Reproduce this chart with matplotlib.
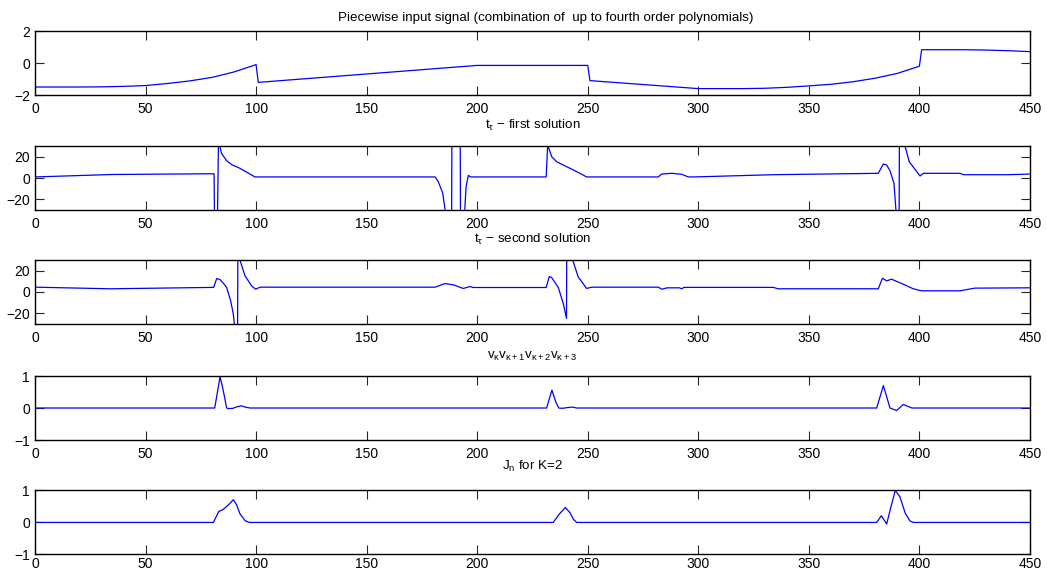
import matplotlib
matplotlib.use("Agg")
import matplotlib.pyplot as plt

plt.rcParams['font.family'] = ['Liberation Sans', 'DejaVu Sans']
plt.rcParams['mathtext.fontset'] = 'custom'
plt.rcParams['mathtext.rm'] = 'Liberation Sans'
plt.rcParams['mathtext.it'] = 'Liberation Sans'
plt.rcParams['mathtext.default'] = 'regular'

# piecewise input signal
t_in = [0, 10, 20, 30, 40, 50, 60, 70, 80, 90, 100, 101, 200, 250, 251, 300,
        310, 320, 330, 340, 350, 360, 370, 380, 390, 400, 401, 420, 430, 440, 450]
s_in = [-1.5, -1.5, -1.5, -1.49, -1.46, -1.41, -1.28, -1.12, -0.9, -0.56, -0.1,
        -1.21, -0.15, -0.15, -1.1, -1.6, -1.6, -1.6, -1.58, -1.52, -1.43, -1.33,
        -1.17, -0.95, -0.65, -0.2, 0.83, 0.83, 0.81, 0.77, 0.71]

# t_tau first solution
t_first = [0, 35, 81, 81.3, 82.4, 83, 84.4, 86.7, 89, 92.7, 99.5, 181, 182.4,
           184.4, 185.5, 186.5, 188, 189, 191.9, 192.9, 194, 194.5, 195, 196,
           197, 231.2, 231.9, 233.7, 235.9, 240.5, 245, 249.5, 281.9, 283.4,
           288, 292.5, 295.5, 298, 334, 381.4, 383.7, 385.2, 386.7, 388.5,
           389.4, 390.4, 391.4, 392.7, 393.5, 395.4, 398.8, 400.3, 401.8,
           418.4, 420, 440, 450]
s_first = [1.0, 3.3, 4.0, -60, -60, 35, 23, 16.2, 12.5, 9.1, 1.0, 1.0, -3.4,
           -14, -30, -150, -300, 300, 300, -300, -60, -25, -8, 2.5,
           1.0, 1.0, 31, 20, 15.3, 10.6, 6, 1.0, 1.0, 3.7,
           4.4, 3.5, 1.0, 1.0, 3.1, 4.4, 13.1, 12.2, 6.9, -5,
           -30, -300, 300, 100, 30, 15.3, 6, 1.9, 4.4,
           4.4, 3.1, 3.1, 3.7]

# t_tau second solution
t_second = [0, 34, 80.8, 82.2, 83.7, 85.3, 86.7, 88.5, 89.7, 90.2, 91.2, 92.2,
            92.7, 95, 98, 99.8, 101.8, 181, 185.4, 189.2, 193.7, 196.7, 198.2,
            231.2, 232.6, 233.7, 236.7, 239, 240.4, 240.8, 242.5, 243.2, 245.7,
            249.5, 251.8, 282, 283.4, 286, 291.5, 292.5, 293.5, 334, 336,
            381.4, 383.3, 385.2, 387.4, 392.7, 397.2, 401, 418.4, 425, 450]
s_second = [4.5, 3.0, 4.3, 12.6, 11.6, 8, 4.2, -8.2, -20.6, -30, -300, 300,
            30, 15.1, 5.7, 2.6, 4.5, 4.5, 7.9, 6.7, 3.3, 5.1, 4.2,
            4.2, 14.4, 13.5, 4.2, -11.3, -24.7, 200, 60, 30, 14.1,
            3.3, 4.5, 4.5, 2.6, 3.9, 3.9, 3.0, 4.3, 4.3, 3.0,
            3.0, 12.9, 10.4, 12.0, 7.3, 3.0, 1.1, 1.1, 3.6, 3.9]

# v_k v_k+1 v_k+2 v_k+3
t_prod = [0, 81.3, 83.7, 85, 86.7, 87.5, 89.5, 91, 93.3, 95, 97.2, 231.4, 233.8,
          235.5, 236.9, 238.5, 240.5, 242.9, 245, 380.7, 383.7, 385, 386.7,
          389.7, 392.7, 394.5, 396.6, 450]
s_prod = [0, 0, 0.98, 0.6, 0.0, -0.02, -0.01, 0.03, 0.07, 0.03, 0, 0, 0.56,
          0.2, 0.0, -0.01, 0.01, 0.03, 0, 0, 0.7, 0.4, 0,
          -0.08, 0.11, 0.06, 0, 0]

# J_n for K=2
t_j = [0, 80.7, 83.1, 85.2, 87.5, 89.7, 91.2, 92.7, 95.1, 97, 234.4, 237, 239.9,
       242, 243.5, 245, 380.7, 382.8, 385.2, 387, 389.1, 391.2, 393.6, 395.7,
       397.3, 450]
s_j = [0, 0, 0.34, 0.41, 0.55, 0.71, 0.55, 0.27, 0.05, 0, 0, 0.25, 0.47,
       0.3, 0.1, 0, 0, 0.21, -0.05, 0.45, 1.0, 0.8, 0.29, 0.05,
       0, 0]

titles = ["Piecewise input signal (combination of  up to fourth order polynomials)",
          r"t$_{\tau}$ $-$ first solution",
          r"t$_{\tau}$ $-$ second solution",
          r"v$_{\kappa}$v$_{\kappa+1}$v$_{\kappa+2}$v$_{\kappa+3}$",
          r"J$_{n}$ for K=2"]
ylims = [(-2, 2), (-30, 30), (-30, 30), (-1, 1), (-1, 1)]
yticks = [[-2, 0, 2], [-20, 0, 20], [-20, 0, 20], [-1, 0, 1], [-1, 0, 1]]
series = [(t_in, s_in), (t_first, s_first), (t_second, s_second),
          (t_prod, s_prod), (t_j, s_j)]

fig = plt.figure(figsize=(10.47, 5.71), dpi=100)
bottoms = [0.8336, 0.6322, 0.4326, 0.2294, 0.0290]
pads = [7.5, 12.0, 12.0, 12.5, 15.0]
title_x = [0.5136, 0.5, 0.5, 0.5, 0.5]
xpads = [5, 5, 5, 5, 1.5]

for i in range(5):
    ax = fig.add_axes([0.0334, bottoms[i], 0.9503, 0.1121])
    tx, sy = series[i]
    ax.plot(tx, sy, color='#0000ff', lw=0.9)
    ax.set_xlim(0, 450)
    ax.set_ylim(*ylims[i])
    ax.set_xticks(range(0, 451, 50))
    ax.set_yticks(yticks[i])
    ax.tick_params(direction='in', top=True, right=True, length=6.5,
                   width=0.8, labelsize=10, color='#262626')
    ax.tick_params(axis='x', pad=xpads[i])
    for sp in ax.spines.values():
        sp.set_linewidth(1.0)
    ttl = ax.set_title(titles[i], fontsize=9.6, pad=pads[i])
    ttl.set_x(title_x[i])

plt.savefig("out.png", dpi=100)
